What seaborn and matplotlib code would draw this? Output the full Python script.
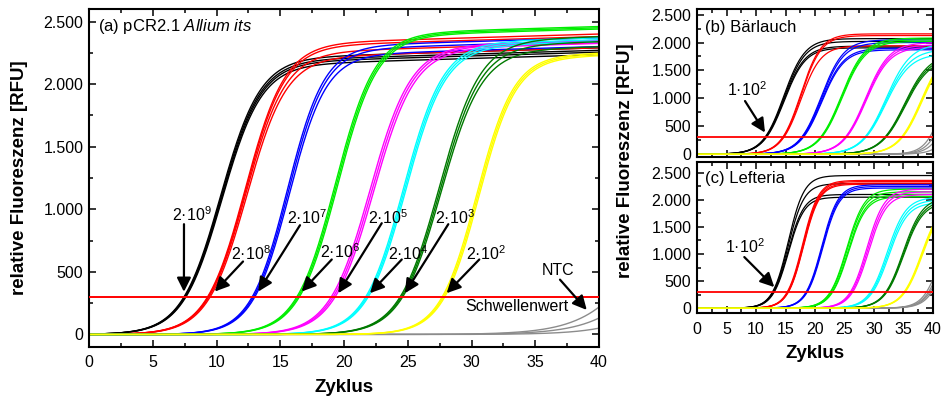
import numpy as np
import pandas as pd
import matplotlib
matplotlib.use("Agg")
import matplotlib.pyplot as plt
import seaborn as sns
from matplotlib.ticker import MultipleLocator, FuncFormatter

sns.set_theme(style="ticks")
plt.rcParams["font.family"] = ["Liberation Sans", "DejaVu Sans"]
plt.rcParams["mathtext.fontset"] = "custom"
plt.rcParams["mathtext.rm"] = "Liberation Sans"
plt.rcParams["mathtext.it"] = "Liberation Sans:italic"
plt.rcParams["mathtext.bf"] = "Liberation Sans:bold"

# ---------------------------------------------------------------- data
THRESHOLD = 300          # Schwellenwert [RFU]
N_CYCLES = 40
NTC_PLATEAU = 2000

series_colors = ["#000000", "#ff0000", "#0000ff", "#00ee00",
                 "#ff00ff", "#00ffff", "#007a00", "#ffff00"]
ntc_color = "#8c8c8c"

# (a) pCR2.1 Allium its - plasmid dilution series
copies_a = ["2·$10^{9}$", "2·$10^{8}$", "2·$10^{7}$", "2·$10^{6}$",
            "2·$10^{5}$", "2·$10^{4}$", "2·$10^{3}$", "2·$10^{2}$"]
ct_a = [[7.45, 7.5, 7.55, 7.6], [9.3, 9.35, 9.4, 9.5], [12.8, 12.9, 13.0],
        [16.3, 16.4, 16.5], [19.0, 19.15, 19.3], [21.7, 21.8, 21.9],
        [24.4, 24.5, 24.6], [27.7, 27.8, 27.9]]
# fluorescence reached at cycle 40
plateau_a = [[2290, 2270, 2255, 2235], [2400, 2380, 2330, 2290],
             [2370, 2345, 2300], [2460, 2450, 2440], [2350, 2340, 2325],
             [2370, 2355, 2340], [2380, 2340, 2300], [2250, 2240, 2230]]
slope_a = [1.55, 1.55, 1.45, 1.55, 1.6, 1.55, 1.6, 1.45]
drift_a = 3.0            # slow rise of the plateau [RFU per cycle]
ntc_ct_a = [40.9, 42.3, 44.8]
ntc_slope_a = 2.5

# (b) Bärlauch
ct_b = [[11.5, 11.6, 11.65, 11.75], [14.5, 14.6, 14.7],
        [17.7, 17.8, 17.9, 18.0], [20.9, 21.0, 21.1], [25.1, 25.2, 25.3],
        [28.4, 28.5, 28.6], [31.8, 31.9, 32.0], [34.6, 34.7, 34.8]]
plateau_b = [[2070, 2020, 1935, 1905], [2155, 2125, 1940],
             [2050, 2000, 1900, 1870], [2080, 2050, 2020], [2000, 1960, 1920],
             [1980, 1880, 1800], [1800, 1760, 1720], [1920, 1900, 1880]]
slope_b = [1.8, 1.7, 1.9, 2.0, 2.0, 2.1, 2.1, 2.0]
drift_b = 0.0
ntc_ct_b = [39.4, 40.0, 40.7, 42.0]
ntc_slope_b = 1.5

# (c) Lefteria
ct_c = [[12.8, 12.9, 13.0, 13.1], [15.3, 15.4, 15.45, 15.5],
        [18.5, 18.6, 18.7], [22.6, 22.7, 22.9, 23.0], [26.0, 26.2, 26.4],
        [29.4, 29.6, 29.8], [32.0, 32.1, 32.2], [35.1, 35.2, 35.3]]
plateau_c = [[2450, 2300, 2100, 2050], [2360, 2340, 2310, 2290],
             [2280, 2250, 2220], [2200, 2150, 2100, 2060], [2200, 2150, 2100],
             [2050, 2000, 1950], [2050, 2000, 1960], [2020, 2000, 1980]]
slope_c = [1.35, 1.35, 1.4, 1.5, 1.5, 1.6, 1.65, 1.7]
drift_c = 0.0
ntc_ct_c = [38.9, 39.25, 39.5, 39.8]
ntc_slope_c = 1.5


# ---------------------------------------------------------------- curves
def amplification(cycles, ct, plateau, slope, drift=0.0):
    """Logistic amplification curve crossing THRESHOLD at cycle ct.

    The plateau reaches `plateau` at the last cycle and rises slowly by
    `drift` RFU per cycle before that."""
    top = lambda x: plateau + drift * (x - N_CYCLES)
    mid = ct + slope * np.log((top(ct) - THRESHOLD) / THRESHOLD)
    return top(cycles) / (1 + np.exp(-(cycles - mid) / slope))


def panel_frame(cts, plateaus, slopes, drift, ntc_cts, ntc_slope):
    cycles = np.linspace(0, N_CYCLES, 401)
    rows = []
    for k, (ct_list, pl_list) in enumerate(zip(cts, plateaus)):
        for r, (ct, pl) in enumerate(zip(ct_list, pl_list)):
            rows.append(pd.DataFrame({
                "Zyklus": cycles,
                "RFU": amplification(cycles, ct, pl, slopes[k], drift),
                "Probe": f"S{k}", "Replikat": f"S{k}-{r}"}))
    for r, ct in enumerate(ntc_cts):
        rows.append(pd.DataFrame({
            "Zyklus": cycles,
            "RFU": amplification(cycles, ct, NTC_PLATEAU, ntc_slope),
            "Probe": "NTC", "Replikat": f"NTC-{r}"}))
    return pd.concat(rows, ignore_index=True)


palette = {f"S{k}": c for k, c in enumerate(series_colors)}
palette["NTC"] = ntc_color
hue_order = ["NTC"] + [f"S{k}" for k in range(len(series_colors))]

# ---------------------------------------------------------------- figure
fig = plt.figure(figsize=(9.42, 4.01), dpi=100)
W, H = 942, 401


def add_axes_px(x0, y0, x1, y1):
    return fig.add_axes([x0 / W, 1 - y1 / H, (x1 - x0) / W, (y1 - y0) / H])


ax_a = add_axes_px(89, 9, 599, 347)
ax_b = add_axes_px(697, 9, 933, 157)
ax_c = add_axes_px(697, 162, 933, 312.5)

thousands = FuncFormatter(lambda v, _: f"{int(round(v)):,}".replace(",", "."))


def style_axes(ax, ylim, show_xlabels=True, xpad=5.5):
    ax.set_xlim(0, N_CYCLES)
    ax.set_ylim(*ylim)
    ax.xaxis.set_major_locator(MultipleLocator(5))
    ax.xaxis.set_minor_locator(MultipleLocator(2.5))
    ax.yaxis.set_major_locator(MultipleLocator(500))
    ax.yaxis.set_minor_locator(MultipleLocator(250))
    ax.yaxis.set_major_formatter(thousands)
    ax.tick_params(which="both", direction="in", top=True, right=True,
                   width=1.1, colors="black", labelsize=11.5)
    ax.tick_params(which="major", length=5)
    ax.tick_params(which="minor", length=3)
    ax.tick_params(axis="x", pad=xpad, labelbottom=show_xlabels)
    ax.tick_params(axis="y", pad=4)
    for s in ax.spines.values():
        s.set_visible(True)
        s.set_linewidth(1.5)
        s.set_color("black")
    ax.set_xlabel("")
    ax.set_ylabel("")
    ax.set_facecolor("white")


panels = [
    (ax_a, panel_frame(ct_a, plateau_a, slope_a, drift_a, ntc_ct_a, ntc_slope_a), 1.0, 1.4),
    (ax_b, panel_frame(ct_b, plateau_b, slope_b, drift_b, ntc_ct_b, ntc_slope_b), 0.9, 1.3),
    (ax_c, panel_frame(ct_c, plateau_c, slope_c, drift_c, ntc_ct_c, ntc_slope_c), 0.9, 1.3),
]
for ax, df, lw, thr_lw in panels:
    sns.lineplot(data=df, x="Zyklus", y="RFU", hue="Probe", units="Replikat",
                 estimator=None, palette=palette, hue_order=hue_order,
                 legend=False, linewidth=lw, ax=ax)
    ax.axhline(THRESHOLD, color="#ff0000", lw=thr_lw, zorder=5)

style_axes(ax_a, (-100, 2600), xpad=6)
style_axes(ax_b, (-50, 2600), show_xlabels=False)
style_axes(ax_c, (-80, 2700), xpad=6.5)

arrow_kw = dict(arrowstyle="-|>,head_length=0.6,head_width=0.3",
                color="black", lw=1.6, mutation_scale=14,
                shrinkA=0, shrinkB=0)
text_kw = dict(fontsize=11.5, ha="center", va="center", color="black")

# dilution labels in (a): text centre, arrow tail, tip offset from Ct, tip height
label_layout_a = [
    ((8.05, 955), (7.45, 881), -0.08, 341),
    ((12.7, 647), (12.08, 583), 0.48, 343),
    ((17.1, 937), (16.55, 873), 0.38, 343),
    ((19.7, 663), (19.04, 599), 0.28, 343),
    ((23.45, 937), (22.96, 889), 0.40, 330),
    ((25.0, 647), (24.53, 599), 0.24, 330),
    ((28.7, 937), (28.18, 881), 0.28, 330),
    ((31.14, 647), (30.61, 599), 0.25, 330),
]
for label, cts, (txt, tail, dx, tip_y) in zip(copies_a, ct_a, label_layout_a):
    tip_x = float(np.mean(cts)) + dx
    ax_a.text(*txt, label, zorder=7, **text_kw)
    ax_a.annotate("", xy=(tip_x, tip_y), xytext=tail, arrowprops=arrow_kw,
                  zorder=7)

ax_a.text(36.78, 510, "NTC", zorder=7, **text_kw)
ax_a.annotate("", xy=(39.04, 196), xytext=(36.94, 438), arrowprops=arrow_kw,
              zorder=7)
ax_a.text(33.57, 224, "Schwellenwert", zorder=7, **text_kw)

# lowest dilution in (b) and (c)
low_label = "1·$10^{2}$"
for ax, cts, txt, tail, dx, tip_y in [
        (ax_b, ct_b, (8.42, 1160), (8.14, 952), -0.1, 388),
        (ax_c, ct_c, (8.14, 1130), (8.02, 944), 0.15, 389)]:
    ax.text(*txt, low_label, zorder=7, **text_kw)
    ax.annotate("", xy=(float(np.mean(cts[0])) + dx, tip_y), xytext=tail,
                arrowprops=arrow_kw, zorder=7)

title_kw = dict(fontsize=12, ha="left", va="center", color="black", zorder=8)
ax_a.text(0.018, 0.947, r"(a) pCR2.1 $\mathit{Allium\ its}$",
          transform=ax_a.transAxes, **title_kw)
ax_b.text(0.034, 0.878, "(b) Bärlauch", transform=ax_b.transAxes, **title_kw)
ax_c.text(0.034, 0.89, "(c) Lefteria", transform=ax_c.transAxes, **title_kw)

# axis titles
lab_kw = dict(fontsize=13.5, fontweight="bold", ha="center", va="center",
              color="black")
fig.text(20 / W, 1 - 178 / H, "relative Fluoreszenz [RFU]", rotation=90, **lab_kw)
fig.text(344 / W, 1 - 388 / H, "Zyklus", **lab_kw)
fig.text(625 / W, 1 - 160.5 / H, "relative Fluoreszenz [RFU]", rotation=90, **lab_kw)
fig.text(815 / W, 1 - 353 / H, "Zyklus", **lab_kw)

fig.savefig("out.png", dpi=100, facecolor="white")
